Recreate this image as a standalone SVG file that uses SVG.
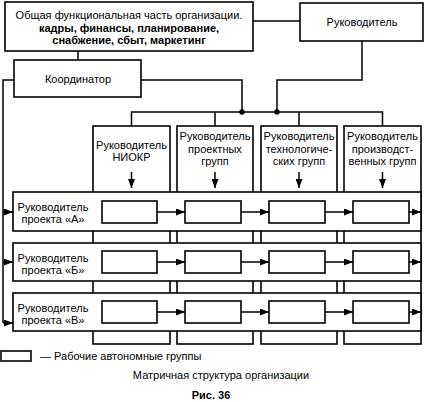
<svg xmlns="http://www.w3.org/2000/svg" width="426" height="402" viewBox="0 0 426 402">
<style>
.box{fill:#fff;stroke:#000;stroke-width:1.6}
.ln{fill:none;stroke:#000;stroke-width:1.5}
text{font-family:"Liberation Sans",Arial,sans-serif;font-size:11px;fill:#000}
.b{font-weight:bold}
.c{text-anchor:middle}
</style>
<defs>
<marker id="ah" markerUnits="userSpaceOnUse" markerWidth="9" markerHeight="7" refX="9" refY="3.5" orient="auto">
<path d="M0,0 L9,3.5 L0,7 z" fill="#000"/>
</marker>
</defs>

<g id="general">
<rect class="box" x="5" y="2" width="248" height="49"/>
<text class="c" x="129" y="19">Общая функциональная часть организации.</text>
<text class="c b" x="129" y="32">кадры, финансы, планирование,</text>
<text class="c b" x="129" y="44">снабжение, сбыт, маркетинг</text>
</g>

<g id="head">
<rect class="box" x="300" y="3" width="123" height="38"/>
<text class="c" x="362" y="26">Руководитель</text>
</g>

<g id="coordinator">
<rect class="box" x="14" y="60" width="127" height="37"/>
<text class="c" x="78" y="83">Координатор</text>
</g>

<g id="col1">
<rect class="box" x="93" y="126" width="77" height="218"/>
<text class="c" x="131.5" y="149">Руководитель</text>
<text class="c" x="131.5" y="161">НИОКР</text>
</g>
<g id="col2">
<rect class="box" x="177" y="126" width="76" height="218"/>
<text class="c" x="215" y="140">Руководитель</text>
<text class="c" x="215" y="152.5">проектных</text>
<text class="c" x="215" y="165">групп</text>
</g>
<g id="col3">
<rect class="box" x="261" y="126" width="76" height="218"/>
<text class="c" x="299" y="140">Руководитель</text>
<text class="c" x="299" y="152.5">технологиче-</text>
<text class="c" x="299" y="165">ских групп</text>
</g>
<g id="col4">
<rect class="box" x="344" y="126" width="77" height="218"/>
<text class="c" x="382.5" y="140">Руководитель</text>
<text class="c" x="382.5" y="152.5">производст-</text>
<text class="c" x="382.5" y="165">венных групп</text>
</g>

<g id="projectA">
<rect class="box" x="13" y="192" width="408" height="39"/>
<text class="c" x="53" y="211">Руководитель</text>
<text class="c" x="53" y="223">проекта «А»</text>
<rect class="box" x="102" y="201" width="55" height="22"/>
<rect class="box" x="185" y="201" width="56" height="22"/>
<rect class="box" x="269" y="201" width="56" height="22"/>
<rect class="box" x="353" y="201" width="56" height="22"/>
</g>
<g id="projectB">
<rect class="box" x="13" y="243" width="408" height="38"/>
<text class="c" x="53" y="262">Руководитель</text>
<text class="c" x="53" y="274">проекта «Б»</text>
<rect class="box" x="102" y="251" width="55" height="22"/>
<rect class="box" x="185" y="251" width="56" height="22"/>
<rect class="box" x="269" y="251" width="56" height="22"/>
<rect class="box" x="353" y="251" width="56" height="22"/>
</g>
<g id="projectC">
<rect class="box" x="13" y="293" width="408" height="38"/>
<text class="c" x="53" y="312">Руководитель</text>
<text class="c" x="53" y="324">проекта «В»</text>
<rect class="box" x="102" y="301" width="55" height="22"/>
<rect class="box" x="185" y="301" width="56" height="22"/>
<rect class="box" x="269" y="301" width="56" height="22"/>
<rect class="box" x="353" y="301" width="56" height="22"/>
</g>

<g id="connectors">
<path class="ln" d="M253,21 H300"/>
<path class="ln" d="M78,51 V60"/>
<path class="ln" d="M141,80 H242 V112"/>
<path class="ln" d="M362,41 V80 H277 V112"/>
<path class="ln" d="M131.5,126 V112 H382.5 V126 M215,112 V126 M299,112 V126"/>
<circle cx="242" cy="112" r="2.7" fill="#000"/>
<circle cx="277" cy="112" r="2.7" fill="#000"/>
<path class="ln" d="M14,80 H3 V323"/>
<path class="ln" d="M3,212 H13" marker-end="url(#ah)"/>
<path class="ln" d="M3,262 H13" marker-end="url(#ah)"/>
<path class="ln" d="M3,323 H13" marker-end="url(#ah)"/>
<path class="ln" d="M131.5,172 V188" marker-end="url(#ah)"/>
<path class="ln" d="M215,172 V188" marker-end="url(#ah)"/>
<path class="ln" d="M299,172 V188" marker-end="url(#ah)"/>
<path class="ln" d="M382.5,172 V188" marker-end="url(#ah)"/>
<path class="ln" d="M157,212 H185" marker-end="url(#ah)"/>
<path class="ln" d="M241,212 H269" marker-end="url(#ah)"/>
<path class="ln" d="M325,212 H353" marker-end="url(#ah)"/>
<path class="ln" d="M409,212 H421" marker-end="url(#ah)"/>
<path class="ln" d="M157,262 H185" marker-end="url(#ah)"/>
<path class="ln" d="M241,262 H269" marker-end="url(#ah)"/>
<path class="ln" d="M325,262 H353" marker-end="url(#ah)"/>
<path class="ln" d="M409,262 H421" marker-end="url(#ah)"/>
<path class="ln" d="M157,312 H185" marker-end="url(#ah)"/>
<path class="ln" d="M241,312 H269" marker-end="url(#ah)"/>
<path class="ln" d="M325,312 H353" marker-end="url(#ah)"/>
<path class="ln" d="M409,312 H421" marker-end="url(#ah)"/>
</g>

<g id="legend">
<rect class="box" x="1" y="351" width="30" height="10"/>
<text x="40" y="360">— Рабочие автономные группы</text>
</g>
<text class="c" x="221" y="379">Матричная структура организации</text>
<text class="c b" x="211" y="399">Рис. 36</text>
</svg>
